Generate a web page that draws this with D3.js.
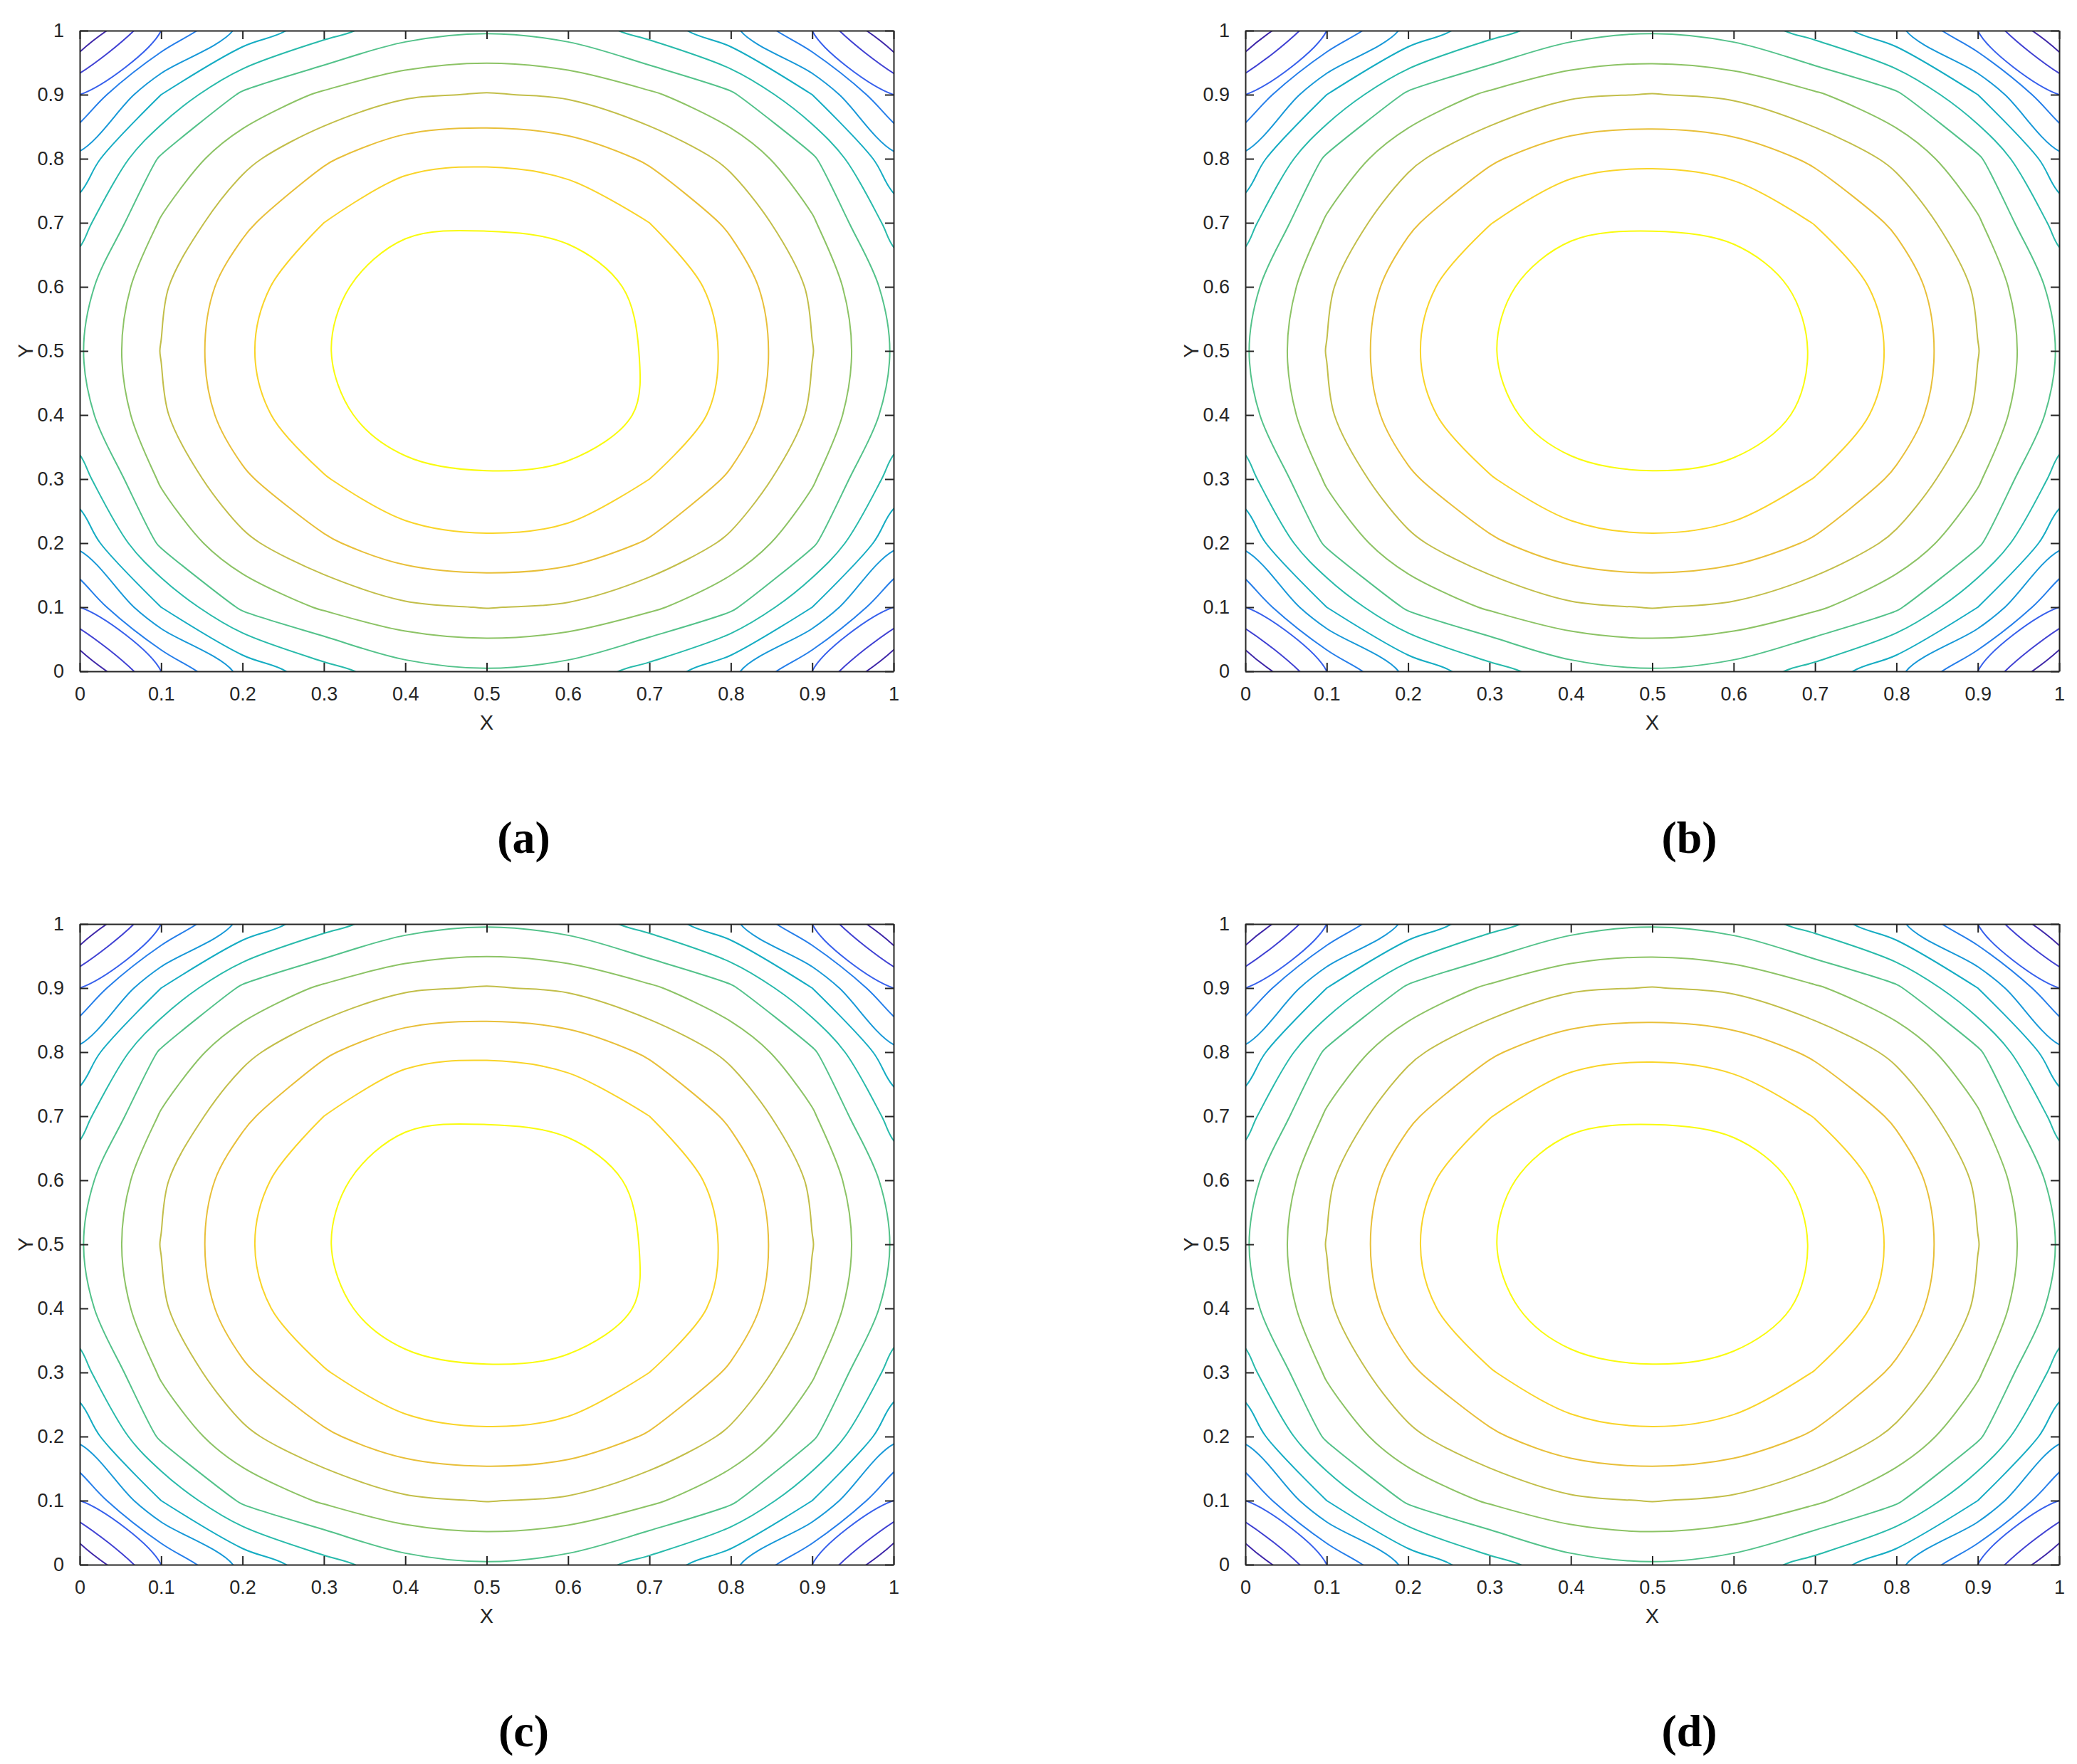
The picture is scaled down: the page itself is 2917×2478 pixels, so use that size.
<!DOCTYPE html>
<html>
<head>
<meta charset="utf-8">
<script src="https://cdn.jsdelivr.net/npm/d3@7"></script>
<style>
  body { margin: 0; background: #fff; }
</style>
</head>
<body>
<div id="chart-area"></div>
<script>
// grid samples, x = 0..1 and y = 0..1 in steps of 0.1 (row 0 is y = 0)
const fieldA = [
    [0.000, 0.090, 0.158, 0.199, 0.228, 0.237, 0.228, 0.199, 0.158, 0.090, 0.000],
    [0.090, 0.180, 0.245, 0.274, 0.295, 0.301, 0.296, 0.276, 0.246, 0.180, 0.090],
    [0.158, 0.245, 0.293, 0.325, 0.348, 0.355, 0.349, 0.327, 0.294, 0.245, 0.158],
    [0.199, 0.274, 0.325, 0.358, 0.382, 0.387, 0.384, 0.360, 0.326, 0.274, 0.199],
    [0.228, 0.295, 0.348, 0.382, 0.404, 0.410, 0.405, 0.386, 0.349, 0.295, 0.228],
    [0.237, 0.301, 0.355, 0.388, 0.410, 0.415, 0.410, 0.387, 0.355, 0.301, 0.237],
    [0.228, 0.295, 0.348, 0.383, 0.405, 0.410, 0.404, 0.383, 0.348, 0.295, 0.228],
    [0.199, 0.273, 0.324, 0.360, 0.385, 0.387, 0.383, 0.360, 0.325, 0.274, 0.199],
    [0.158, 0.244, 0.292, 0.326, 0.351, 0.356, 0.349, 0.326, 0.293, 0.245, 0.158],
    [0.090, 0.180, 0.245, 0.275, 0.296, 0.302, 0.296, 0.275, 0.245, 0.180, 0.090],
    [0.000, 0.090, 0.158, 0.199, 0.228, 0.237, 0.228, 0.199, 0.158, 0.090, 0.000]
];
const fieldB = [
    [0.000, 0.090, 0.158, 0.199, 0.228, 0.237, 0.228, 0.199, 0.158, 0.090, 0.000],
    [0.090, 0.180, 0.245, 0.274, 0.295, 0.301, 0.295, 0.275, 0.245, 0.180, 0.090],
    [0.158, 0.245, 0.293, 0.325, 0.348, 0.355, 0.348, 0.326, 0.293, 0.245, 0.158],
    [0.199, 0.274, 0.325, 0.358, 0.382, 0.387, 0.383, 0.359, 0.325, 0.274, 0.199],
    [0.228, 0.295, 0.348, 0.382, 0.404, 0.410, 0.404, 0.384, 0.348, 0.295, 0.228],
    [0.237, 0.301, 0.355, 0.388, 0.410, 0.415, 0.410, 0.388, 0.355, 0.301, 0.237],
    [0.228, 0.295, 0.348, 0.383, 0.405, 0.410, 0.404, 0.383, 0.348, 0.295, 0.228],
    [0.199, 0.274, 0.325, 0.359, 0.384, 0.387, 0.383, 0.359, 0.325, 0.274, 0.199],
    [0.158, 0.245, 0.293, 0.326, 0.349, 0.355, 0.348, 0.325, 0.293, 0.245, 0.158],
    [0.090, 0.180, 0.245, 0.275, 0.296, 0.301, 0.295, 0.274, 0.245, 0.180, 0.090],
    [0.000, 0.090, 0.158, 0.199, 0.228, 0.237, 0.228, 0.199, 0.158, 0.090, 0.000]
];
const panelFields = [fieldA, fieldB, fieldA, fieldB];
const panelLabels = ['(a)', '(b)', '(c)', '(d)'];
const levels = [0.03, 0.06, 0.09, 0.12, 0.15, 0.18, 0.21, 0.24, 0.27, 0.30, 0.33, 0.36, 0.39];
const tickValues = [0, 0.1, 0.2, 0.3, 0.4, 0.5, 0.6, 0.7, 0.8, 0.9, 1];
const parula = ['#3e26a8', '#4445e0', '#2f6cf5', '#1b90e0', '#0eaac8', '#22bcad', '#5bc483', '#a6c355', '#e0b93c', '#fdc832', '#f9fb0e'];

const W = 2917, H = 2478;
const pw = 1143, ph = 900;
const origins = [[112, 43], [1749, 43], [112, 1298], [1749, 1298]];

const svg = d3.select('#chart-area').append('svg')
    .attr('width', W)
    .attr('height', H)
    .style('font-family', 'Liberation Sans, Arial, sans-serif');

const color = d3.scaleSequential(d3.interpolateRgbBasis(parula))
    .domain([levels[0], levels[levels.length - 1]]);

panelFields.forEach((field, k) => {
    const [ox, oy] = origins[k];
    const n = field.length;
    const x = d3.scaleLinear().domain([0, 1]).range([0, pw]);
    const y = d3.scaleLinear().domain([0, 1]).range([ph, 0]);
    // grid coordinate u (sample i sits at u = i + 0.5) -> data
    const gx = d3.scaleLinear().domain([0.5, n - 0.5]).range([0, 1]);

    const g = svg.append('g').attr('transform', `translate(${ox},${oy})`);

    g.append('clipPath').attr('id', 'clip' + k)
        .append('rect').attr('width', pw).attr('height', ph);

    const contours = d3.contours().size([n, n]).thresholds(levels)(field.flat());
    const line = d3.line()
        .x((p) => x(gx(p[0])))
        .y((p) => y(gx(p[1])))
        .curve(d3.curveCatmullRomClosed.alpha(0.5));

    const rings = [];
    contours.forEach((c) => {
        c.coordinates.forEach((poly) => poly.forEach((ring) => {
            rings.push({ value: c.value, pts: ring.slice(0, -1) });
        }));
    });

    g.append('g').attr('clip-path', `url(#clip${k})`)
        .selectAll('path')
        .data(rings)
        .enter()
        .append('path')
            .attr('d', (d) => line(d.pts))
            .attr('fill', 'none')
            .attr('stroke', (d) => color(d.value))
            .attr('stroke-width', 2);

    const fmt = (d) => (d === 0 || d === 1) ? String(d) : d3.format('.1f')(d);

    const xAxis = g.append('g').attr('transform', `translate(0,${ph})`)
        .call(d3.axisBottom(x).tickValues(tickValues).tickFormat(fmt).tickSizeInner(-12).tickSizeOuter(0).tickPadding(22));
    const xTop = g.append('g')
        .call(d3.axisTop(x).tickValues(tickValues).tickFormat('').tickSizeInner(-12).tickSizeOuter(0));
    const yAxis = g.append('g')
        .call(d3.axisLeft(y).tickValues(tickValues).tickFormat(fmt).tickSizeInner(-12).tickSizeOuter(0).tickPadding(22));
    const yRight = g.append('g').attr('transform', `translate(${pw},0)`)
        .call(d3.axisRight(y).tickValues(tickValues).tickFormat('').tickSizeInner(-12).tickSizeOuter(0));

    [xAxis, xTop, yAxis, yRight].forEach((a) => {
        a.selectAll('path, line').attr('stroke', '#262626').attr('stroke-width', 2);
        a.selectAll('text').attr('font-size', 27).attr('fill', '#262626').attr('font-family', 'Liberation Sans, Arial, sans-serif');
    });

    g.append('text')
        .attr('x', pw / 2).attr('y', ph + 82)
        .attr('text-anchor', 'middle')
        .attr('font-size', 29).attr('fill', '#262626')
        .text('X');
    g.append('text')
        .attr('transform', `translate(-66,${ph / 2}) rotate(-90)`)
        .attr('text-anchor', 'middle')
        .attr('font-size', 29).attr('fill', '#262626')
        .text('Y');

    g.append('text')
        .attr('x', pw / 2 + 52).attr('y', ph + 255)
        .attr('text-anchor', 'middle')
        .attr('font-size', 64).attr('font-weight', 'bold')
        .attr('font-family', 'Liberation Serif, serif')
        .attr('fill', '#000')
        .text(panelLabels[k]);
});
</script>
</body>
</html>
